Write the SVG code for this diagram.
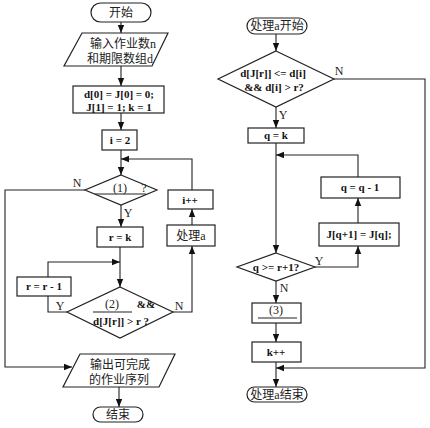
<svg xmlns="http://www.w3.org/2000/svg" width="430" height="428" viewBox="0 0 430 428">
<defs>
<marker id="ah" markerUnits="userSpaceOnUse" markerWidth="8" markerHeight="8" viewBox="0 0 8 8" refX="8" refY="4" orient="auto">
<path d="M0,0.8 L8,4 L0,7.2 Z" fill="#111"/>
</marker>
<style>
.s{fill:#fff;stroke:#222;stroke-width:1.2}
.c{fill:none;stroke:#222;stroke-width:1.1}
.a{fill:none;stroke:#222;stroke-width:1.1;marker-end:url(#ah)}
.f{font-family:"Liberation Serif","Noto Sans CJK SC",serif;font-size:11px;font-weight:bold;fill:#111;text-anchor:middle}
.z{font-family:"Liberation Serif","Noto Sans CJK SC",serif;font-size:12px;fill:#222;text-anchor:middle}
.l{font-family:"Liberation Serif",serif;font-size:12px;fill:#222;text-anchor:middle}
</style>
</defs>
<rect width="430" height="428" fill="#fff"/>

<g id="connectors">
<path class="a" d="M121,22 V33"/>
<path class="a" d="M121,66 V86"/>
<path class="a" d="M121,113 V130"/>
<path class="a" d="M121,150 V175"/>
<path class="a" d="M192,190 V159 H121"/>
<path class="a" d="M85,190 H5 V367 H72"/>
<path class="a" d="M121,205 V227"/>
<path class="a" d="M120,247 V287"/>
<path class="a" d="M48,277 V262 H120"/>
<path class="c" d="M67,312 H48 V296"/>
<path class="a" d="M173,312 H192 V246"/>
<path class="a" d="M192,225 V209"/>
<path class="a" d="M119,387 V407"/>

<path class="a" d="M276,34 V51"/>
<path class="a" d="M334,79 H425 V368 H276"/>
<path class="a" d="M276,107 V128"/>
<path class="a" d="M276,143 V253"/>
<path class="a" d="M358,177 V155 H276"/>
<path class="a" d="M358,223 V198"/>
<path class="a" d="M315,267 H358 V246"/>
<path class="a" d="M276,281 V303"/>
<path class="a" d="M276,323 V342"/>
<path class="a" d="M276,362 V387"/>
</g>

<g id="labels">
<text class="l" x="77" y="187">N</text>
<text class="l" x="128" y="217">Y</text>
<text class="l" x="60" y="310">Y</text>
<text class="l" x="179" y="310">N</text>
<text class="l" x="339" y="75">N</text>
<text class="l" x="283" y="119">Y</text>
<text class="l" x="319" y="265">Y</text>
<text class="l" x="284" y="292">N</text>
</g>

<g id="start">
<rect class="s" x="91" y="3" width="60" height="19" rx="9.5"/>
<text class="z" x="121" y="17">开始</text>
</g>

<g id="input">
<polygon class="s" points="82,33 168,33 152,66 64,66"/>
<text class="z" x="123" y="48">输入作业数n</text>
<text class="z" x="120" y="63">和期限数组d</text>
</g>

<g id="init">
<rect class="s" x="73" y="86" width="91" height="27"/>
<text class="f" x="119" y="98">d[0] = J[0] = 0;</text>
<text class="f" x="119" y="111">J[1] = 1; k = 1</text>
</g>

<g id="i2">
<rect class="s" x="102" y="130" width="35" height="20"/>
<text class="f" x="120" y="144">i = 2</text>
</g>

<g id="cond1">
<polygon class="s" points="121,175 157,190 121,205 85,190"/>
<text class="l" x="120" y="192">(1)</text>
<path class="c" d="M95,194 H146"/>
<text class="l" x="144" y="192">?</text>
</g>

<g id="rk">
<rect class="s" x="97" y="227" width="46" height="20"/>
<text class="f" x="120" y="241">r = k</text>
</g>

<g id="rdec">
<rect class="s" x="17" y="277" width="54" height="19"/>
<text class="f" x="44" y="290">r = r - 1</text>
</g>

<g id="cond2">
<polygon class="s" points="120,287 173,312 120,338 67,312"/>
<text class="l" x="112" y="308">(2)</text>
<path class="c" d="M93,312 H132"/>
<text class="f" x="146" y="308">&amp;&amp;</text>
<text class="f" x="121" y="325">d[J[r]] &gt; r ?</text>
</g>

<g id="proc">
<rect class="s" x="167" y="225" width="48" height="21"/>
<text class="z" x="191" y="240">处理a</text>
</g>

<g id="iinc">
<rect class="s" x="168" y="190" width="45" height="19"/>
<text class="f" x="190" y="204">i++</text>
</g>

<g id="output">
<polygon class="s" points="80,354 175,354 159,387 63,387"/>
<text class="z" x="120" y="369">输出可完成</text>
<text class="z" x="119" y="384">的作业序列</text>
</g>

<g id="end">
<rect class="s" x="93" y="407" width="50" height="15" rx="7.5"/>
<text class="z" x="118" y="419">结束</text>
</g>

<g id="pstart">
<rect class="s" x="247" y="18" width="60" height="16" rx="8"/>
<text class="z" x="277" y="30">处理a开始</text>
</g>

<g id="pcond">
<polygon class="s" points="276,51 334,79 276,107 218,79"/>
<text class="f" x="273" y="77">d[J[r]] &lt;= d[i]</text>
<text class="f" x="274" y="91">&amp;&amp; d[i] &gt; r?</text>
</g>

<g id="qk">
<rect class="s" x="248" y="128" width="56" height="15"/>
<text class="f" x="276" y="139">q = k</text>
</g>

<g id="qdec">
<rect class="s" x="321" y="177" width="79" height="21"/>
<text class="f" x="360" y="191">q = q - 1</text>
</g>

<g id="jshift">
<rect class="s" x="319" y="223" width="80" height="23"/>
<text class="f" x="359" y="238">J[q+1] = J[q];</text>
</g>

<g id="qcond">
<polygon class="s" points="276,253 315,267 276,281 237,267"/>
<text class="f" x="276" y="271">q &gt;= r+1?</text>
</g>

<g id="blank3">
<rect class="s" x="252" y="303" width="49" height="20"/>
<text class="l" x="276" y="314">(3)</text>
<path class="c" d="M258,318 H297"/>
</g>

<g id="kinc">
<rect class="s" x="252" y="342" width="49" height="20"/>
<text class="f" x="276" y="356">k++</text>
</g>

<g id="pend">
<rect class="s" x="247" y="387" width="60" height="15" rx="7.5"/>
<text class="z" x="277" y="399">处理a结束</text>
</g>
</svg>
